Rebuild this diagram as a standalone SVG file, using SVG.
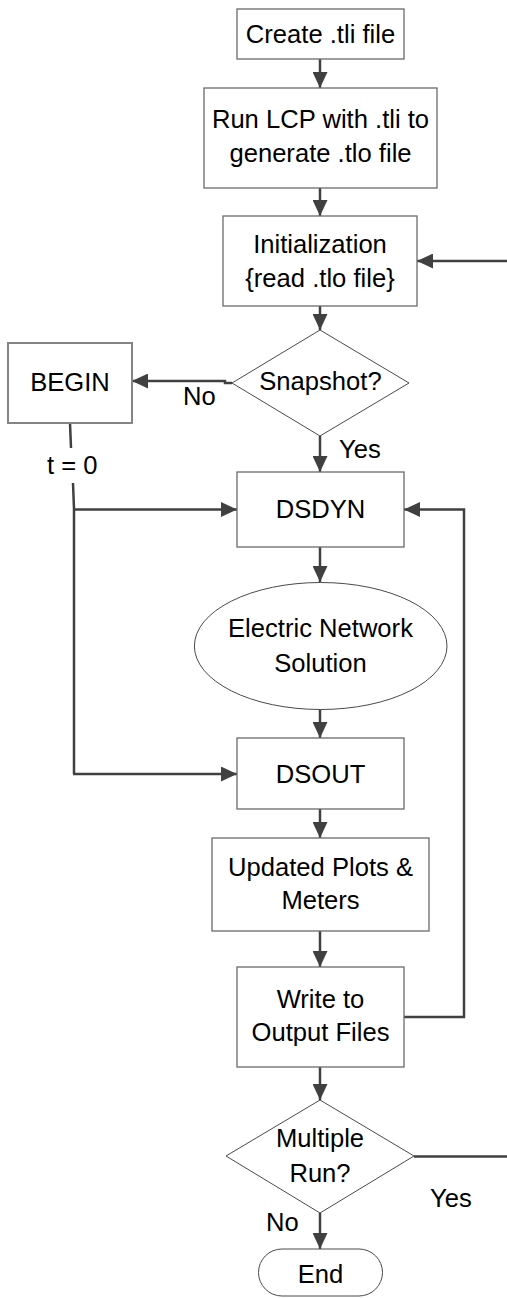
<svg xmlns="http://www.w3.org/2000/svg" width="507" height="1298" viewBox="0 0 507 1298">
  <style>
    .box { fill: #ffffff; stroke: #6a6a6a; stroke-width: 1.3; }
    .box2 { fill: #ffffff; stroke: #858585; stroke-width: 2; }
    .shape { fill: #ffffff; stroke: #4a4a4a; stroke-width: 1; }
    .lbl { font-family: "Liberation Sans", Arial, sans-serif; font-size: 25.6px; fill: #000000; text-anchor: middle; }
    .tag { font-family: "Liberation Sans", Arial, sans-serif; font-size: 25.6px; fill: #000000; }
    .conn { fill: none; stroke: #404040; stroke-width: 2.5; }
    .arr { marker-end: url(#head); }
  </style>
  <defs>
    <marker id="head" viewBox="0 0 16 15" refX="16" refY="7.5" markerWidth="16" markerHeight="15" markerUnits="userSpaceOnUse" orient="auto">
      <path d="M0,0 L16,7.5 L0,15 z" fill="#404040"/>
    </marker>
  </defs>
  <rect width="507" height="1298" fill="#ffffff"/>

  <!-- connectors and their labels -->
  <g id="connectors">
    <path class="conn arr" d="M320,59 V88"/>
    <path class="conn arr" d="M320,188 V216"/>
    <path class="conn arr" d="M507,261 H417"/>
    <path class="conn arr" d="M320,306 V330"/>
    <path class="conn arr" d="M232,383 H225 V381 H132"/>
    <path class="conn" d="M70,423 L71,448"/>
    <path class="conn" d="M73,483 L74,509 V774"/>
    <path class="conn arr" d="M73,509.5 H237"/>
    <path class="conn arr" d="M73,774 H237"/>
    <path class="conn arr" d="M320,436 V472"/>
    <path class="conn arr" d="M320,547 V582"/>
    <path class="conn arr" d="M320,709 V738"/>
    <path class="conn arr" d="M320,809 V838"/>
    <path class="conn arr" d="M320,931 V967"/>
    <path class="conn arr" d="M404,1017 H464 V509.5 H404"/>
    <path class="conn arr" d="M320,1067 V1100"/>
    <path class="conn arr" d="M320,1213 V1249"/>
    <path class="conn" d="M414,1156.5 H507"/>
    <text class="tag" x="183" y="405">No</text>
    <text class="tag" x="339" y="458">Yes</text>
    <text class="tag" x="47" y="474">t = 0</text>
    <text class="tag" x="430" y="1207">Yes</text>
    <text class="tag" x="266" y="1231">No</text>
  </g>

  <g id="create">
    <rect class="box" x="237" y="9" width="167" height="50"/>
    <text class="lbl" x="320.5" y="43">Create .tli file</text>
  </g>

  <g id="run-lcp">
    <rect class="box" x="204" y="88" width="233" height="100"/>
    <text class="lbl" x="320.5" y="128">Run LCP with .tli to</text>
    <text class="lbl" x="320.5" y="162">generate .tlo file</text>
  </g>

  <g id="init">
    <rect class="box" x="223" y="216" width="194" height="90"/>
    <text class="lbl" x="320" y="253">Initialization</text>
    <text class="lbl" x="320" y="287">{read .tlo file}</text>
  </g>

  <g id="snapshot">
    <polygon class="shape" points="320,330 409,383 320,436 232,383"/>
    <text class="lbl" x="320.5" y="390">Snapshot?</text>
  </g>

  <g id="begin">
    <rect class="box2" x="8" y="343" width="124" height="80"/>
    <text class="lbl" x="70" y="391">BEGIN</text>
  </g>

  <g id="dsdyn">
    <rect class="box" x="237" y="472" width="167" height="75"/>
    <text class="lbl" x="320.5" y="518">DSDYN</text>
  </g>

  <g id="network">
    <ellipse class="shape" cx="320.7" cy="646" rx="126.3" ry="63.5"/>
    <text class="lbl" x="320.5" y="637">Electric Network</text>
    <text class="lbl" x="320.5" y="672">Solution</text>
  </g>

  <g id="dsout">
    <rect class="box" x="237" y="738" width="167" height="71"/>
    <text class="lbl" x="320.5" y="783">DSOUT</text>
  </g>

  <g id="plots">
    <rect class="box" x="212" y="838" width="217" height="93"/>
    <text class="lbl" x="320.5" y="876">Updated Plots &amp;</text>
    <text class="lbl" x="320.5" y="909">Meters</text>
  </g>

  <g id="write">
    <rect class="box" x="237" y="967" width="167" height="100"/>
    <text class="lbl" x="320.5" y="1008">Write to</text>
    <text class="lbl" x="320.5" y="1041">Output Files</text>
  </g>

  <g id="multiple">
    <polygon class="shape" points="320,1100 414,1156 320,1213 226,1156"/>
    <text class="lbl" x="320" y="1147">Multiple</text>
    <text class="lbl" x="320" y="1182">Run?</text>
  </g>

  <g id="end">
    <rect class="shape" x="258.5" y="1249" width="124" height="47" rx="23.5" ry="23.5"/>
    <text class="lbl" x="320.5" y="1283">End</text>
  </g>
</svg>
